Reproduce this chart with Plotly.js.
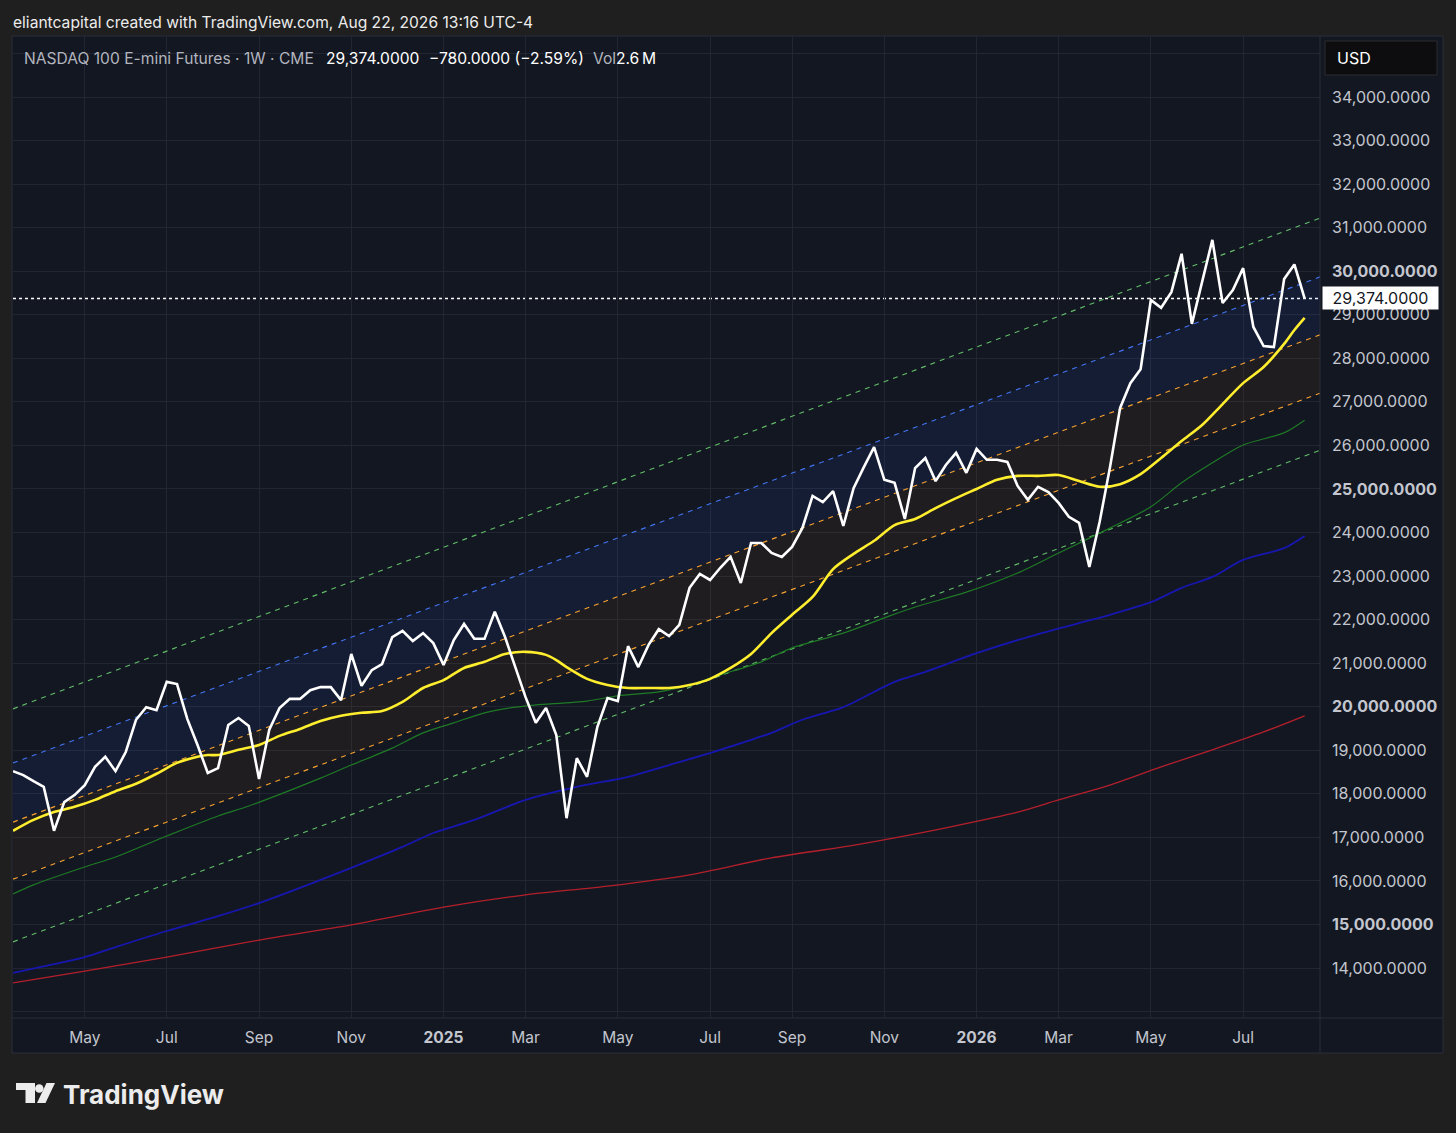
<!DOCTYPE html>
<html><head><meta charset="utf-8">
<script src="https://cdn.plot.ly/plotly-3.0.1.min.js"></script>
<style>html,body{margin:0;padding:0;background:#1f1f1f;}#chart{width:1456px;height:1133px;}</style>
</head><body><div id="chart"></div>
<script>
// ---------- DATA ----------
const startWeek = '2024-03-18';           // first weekly bar (Monday)
const closeVals = [
18520,18430,18290,18160,17150,17810,17970,18200,18620,18850,
18520,18960,19700,19990,19920,20570,20520,19720,19120,18480,
18590,19580,19740,19560,18340,19470,19970,20180,20180,20380,
20450,20450,20150,21210,20480,20840,20980,21600,21740,21510,
21690,21460,20960,21530,21900,21560,21560,22180,21600,20910,
20220,19630,19970,19350,17440,18820,18390,19530,20200,20130,
21390,20910,21420,21780,21620,21880,22730,23050,22910,23190,
23440,22840,23760,23760,23530,23440,23670,24100,24840,24700,
24950,24150,25020,25500,25960,25210,25140,24310,25480,25710,
25180,25550,25830,25370,25920,25670,25670,25620,25070,24750,
25050,24930,24680,24360,24220,23210,24240,25480,26860,27430,
27750,29340,29160,29520,30400,28790,29730,30720,29270,29570,
30070,28720,28280,28260,29820,30154,29374];

const yellowIdx  = [0,2,4,6,8,10,12,14,15,16,18,19,20,22,24,26,28,30,32,34,36,38,40,42,44,46,48,50,52,53,54,56,58,60,62,64,66,68,70,72,74,76,78,80,82,84,86,88,90,92,94,96,98,100,102,104,106,108,110,112,114,116,118,120,122,124,125,126];
const yellowVals = [17150,17400,17580,17700,17860,18060,18230,18460,18590,18710,18850,18890,18890,19010,19120,19330,19490,19670,19790,19860,19900,20110,20430,20610,20890,21030,21210,21260,21190,21070,20910,20640,20500,20430,20430,20430,20500,20640,20890,21210,21690,22110,22520,23160,23510,23810,24170,24310,24560,24790,25000,25210,25300,25300,25320,25180,25050,25110,25340,25710,26100,26470,26950,27430,27800,28330,28650,28930];

const greenIdx  = [0,2,7,10,15,20,23,30,33,37,40,43,46,49,51,56,59,63,66,69,73,76,81,85,88,93,98,102,107,111,114,117,120,124,126];
const greenVals = [15700,15910,16320,16550,17030,17490,17720,18360,18660,19050,19400,19630,19860,19990,20040,20130,20250,20340,20500,20730,21030,21350,21690,22040,22290,22630,23070,23530,24100,24590,25140,25600,26010,26290,26580];

const blueIdx  = [0,4,7,10,15,20,24,28,33,38,41,45,50,55,60,64,69,74,77,81,86,89,94,99,104,107,111,114,117,120,124,126];
const blueVals = [13890,14090,14250,14480,14850,15190,15490,15840,16300,16780,17100,17400,17860,18160,18390,18660,19010,19400,19700,19990,20570,20800,21230,21600,21920,22110,22400,22730,22980,23370,23640,23920];

const redIdx  = [0,7,15,24,33,42,50,58,66,74,81,86,91,98,102,107,112,117,122,126];
const redVals = [13660,13930,14250,14640,14990,15400,15680,15880,16140,16530,16780,16990,17220,17580,17860,18200,18620,19010,19420,19790];

// channel lines: value at first bar and at right edge
const channelIdx   = [0, 127.5];
const chUpperGreen = [19950, 31220];
const chBlue       = [18710, 29870];
const chOrangeUp   = [17350, 28540];
const chOrangeLo   = [16040, 27200];
const chLowerGreen = [14600, 25890];

const xTickVals = ['2024-05-06','2024-07-01','2024-09-02','2024-11-04','2025-01-06','2025-03-03','2025-05-05','2025-07-07','2025-09-01','2025-11-03','2026-01-05','2026-03-02','2026-05-04','2026-07-06'];
const xTickText = ['May','Jul','Sep','Nov','<b>2025</b>','Mar','May','Jul','Sep','Nov','<b>2026</b>','Mar','May','Jul'];
const yTickVals = [13000,14000,15000,16000,17000,18000,19000,20000,21000,22000,23000,24000,25000,26000,27000,28000,29000,30000,31000,32000,33000,34000,35000];
const yRange = [12852, 35401];
const xRangeIdx = [0, 127.5];

const headerText = 'eliantcapital created with TradingView.com, Aug 22, 2026 13:16 UTC-4';
const symbolText = 'NASDAQ 100 E-mini Futures · 1W · CME';
const volText = '2.6\u2009M';

// ---------- HELPERS ----------
const t0 = Date.parse(startWeek + 'T00:00:00Z');
function weekDate(i){ return new Date(t0 + i*7*86400000).toISOString().slice(0,16).replace('T',' '); }
function fmt(v){ const p = Math.abs(v).toFixed(4).split('.'); return (v<0?'\u2212':'') + p[0].replace(/\B(?=(\d{3})+(?!\d))/g, ',') + '.' + p[1]; }
function px(X){ return (X-13)/1307; }
function py(Y){ return (1018-Y)/982; }

const closeX = closeVals.map((_,i)=>weekDate(i));
const chX = channelIdx.map(weekDate);
const lastClose = closeVals[closeVals.length-1];
const prevClose = closeVals[closeVals.length-2];
const chg = lastClose - prevClose;
const chgPct = chg/prevClose*100;

function line(x,y,color,width,dash,extra){
  return Object.assign({type:'scatter',mode:'lines',x:x,y:y,line:{color:color,width:width,dash:dash||'solid'},hoverinfo:'skip',showlegend:false},extra||{});
}
function smooth(x,y,color,width){
  return {type:'scatter',mode:'lines',x:x,y:y,line:{color:color,width:width,shape:'spline',smoothing:0.8},hoverinfo:'skip',showlegend:false};
}

const traces = [
  line(chX, chUpperGreen, '#62bd68', 1.1, '5px,5px'),
  line(chX, chBlue, '#4274f0', 1.1, '5px,5px'),
  line(chX, chOrangeUp, '#f7a331', 1.1, '5px,5px', {fill:'tonexty', fillcolor:'rgba(41,98,255,0.085)'}),
  line(chX, chOrangeLo, '#f7a331', 1.1, '5px,5px', {fill:'tonexty', fillcolor:'rgba(255,152,0,0.055)'}),
  line(chX, chLowerGreen, '#62bd68', 1.1, '5px,5px'),
  smooth(redIdx.map(weekDate), redVals, '#b3202c', 1.3),
  smooth(blueIdx.map(weekDate), blueVals, '#1717b0', 1.8),
  smooth(greenIdx.map(weekDate), greenVals, '#1f7a25', 1.2),
  smooth(yellowIdx.map(weekDate), yellowVals, '#ffee2e', 2.6),
  line(closeX, closeVals, '#ffffff', 2.6)
];

const yTickText = yTickVals.map(v => (v===yTickVals[0]||v===yTickVals[yTickVals.length-1]) ? '' : (v%5000===0 ? '<b>'+fmt(v)+'</b>' : fmt(v)));

const font = 'Inter, "Noto Sans", sans-serif';
const border = '#2a2e39';

function poly(pts){ return 'M' + pts.map(p=>px(p[0])+','+py(p[1])).join(' L') + ' Z'; }

const shapes = [
  {type:'rect',xref:'paper',yref:'paper',x0:px(12),x1:px(1443),y0:py(1053),y1:py(36),fillcolor:'#131722',line:{color:border,width:1},layer:'below'},
  {type:'line',xref:'paper',yref:'paper',x0:1,x1:1,y0:py(1053),y1:1,line:{color:border,width:1},layer:'above'},
  {type:'line',xref:'paper',yref:'paper',x0:px(12),x1:px(1443),y0:0,y1:0,line:{color:border,width:1},layer:'above'},
  {type:'line',xref:'paper',yref:'y',x0:0,x1:1,y0:lastClose,y1:lastClose,line:{color:'#ffffff',width:1.5,dash:'dot'},layer:'below'},
  {type:'rect',xref:'paper',yref:'paper',x0:px(1325),x1:px(1437),y0:py(75),y1:py(41),fillcolor:'#0d0d0f',line:{color:'#2c2c30',width:1},layer:'above'},
  {type:'path',xref:'paper',yref:'paper',path:poly([[16,1083],[35,1083],[35,1103],[25.5,1103],[25.5,1090],[16,1090]]),fillcolor:'#ececec',line:{width:0}},
  {type:'circle',xref:'paper',yref:'paper',x0:px(35),x1:px(43.5),y0:py(1092.7),y1:py(1084.2),fillcolor:'#ececec',line:{width:0}},
  {type:'path',xref:'paper',yref:'paper',path:poly([[46.5,1083],[55,1083],[45.5,1103],[37,1103]]),fillcolor:'#ececec',line:{width:0}}
];

function ann(text,X,Y,size,color,extra){
  return Object.assign({text:text,xref:'paper',yref:'paper',x:px(X),y:py(Y),xanchor:'left',yanchor:'middle',showarrow:false,font:{family:font,size:size,color:color}},extra||{});
}

const annotations = [
  ann(headerText, 11, 22, 15.6, '#ececec'),
  ann(symbolText, 22, 59, 15.6, '#b2b5be'),
  ann(fmt(lastClose), 324, 59, 15.6, '#ffffff'),
  ann(fmt(chg) + ' (' + (chgPct<0?'\u2212':'') + Math.abs(chgPct).toFixed(2) + '%)', 427, 59, 15.6, '#ffffff'),
  ann('Vol', 591, 59, 15.6, '#b2b5be'),
  ann(volText, 614, 59, 15.6, '#ffffff'),
  ann('USD', 1335, 58, 16, '#ffffff'),
  {text:fmt(lastClose),xref:'paper',yref:'y',x:px(1322),y:lastClose,xanchor:'left',yanchor:'middle',showarrow:false,
   bgcolor:'#ffffff',borderpad:3,width:109,height:16,align:'center',font:{family:font,size:16,color:'#131722'}},
  ann('<b>TradingView</b>', 61, 1094, 26, '#ececec')
];

const layout = {
  width:1456, height:1133,
  margin:{l:13,r:136,t:36,b:115,pad:0},
  paper_bgcolor:'#1f1f1f', plot_bgcolor:'#131722',
  font:{family:font,color:'#c3c6ce',size:16},
  showlegend:false,
  xaxis:{type:'date',range:xRangeIdx.map(weekDate),tickmode:'array',tickvals:xTickVals,ticktext:xTickText,
    showgrid:true,gridcolor:'#222633',gridwidth:1,zeroline:false,showline:false,ticks:'',
    tickfont:{family:font,size:15.5,color:'#c3c6ce'},ticklabelstandoff:8,fixedrange:true},
  yaxis:{side:'right',range:yRange,tickmode:'array',tickvals:yTickVals,ticktext:yTickText,
    showgrid:true,gridcolor:'#222633',gridwidth:1,zeroline:false,showline:false,ticks:'',
    tickfont:{family:font,size:16,color:'#c3c6ce'},ticklabelstandoff:11,fixedrange:true},
  shapes:shapes,
  annotations:annotations
};

Plotly.newPlot('chart', traces, layout, {displayModeBar:false, staticPlot:true});
</script>
</body></html>
